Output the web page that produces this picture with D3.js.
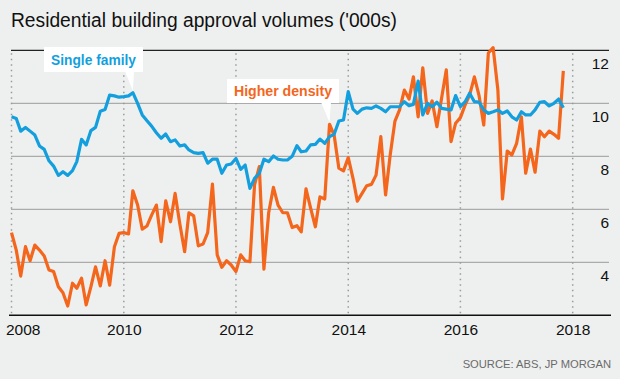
<!DOCTYPE html>
<html>
<head>
<meta charset="utf-8">
<script src="https://cdn.jsdelivr.net/npm/d3@7"></script>
<style>
  html, body { margin: 0; padding: 0; background: #eef0ef; }
  svg { display: block; font-family: "Liberation Sans", Arial, sans-serif; }
</style>
</head>
<body>
<div id="chart"></div>
<script>
// Monthly series, Jan 2008 onwards ('000s)
const startYear = 2008;
const singleFamily = [
  9.49, 9.43, 8.95, 9.09, 8.95, 8.80, 8.39, 8.26, 7.83, 7.63, 7.28, 7.42,
  7.28, 7.46, 7.80, 8.64, 8.43, 8.97, 9.09, 9.70, 9.77, 10.31, 10.28, 10.23,
  10.25, 10.28, 10.40, 10.00, 9.56, 9.34, 9.14, 8.89, 8.68, 8.84, 8.55, 8.62,
  8.39, 8.43, 8.24, 8.14, 8.11, 8.14, 7.74, 7.89, 7.89, 7.36, 7.67, 7.71,
  7.92, 7.51, 7.67, 6.79, 7.17, 7.36, 7.89, 7.80, 8.01, 7.89, 7.86, 7.86,
  8.00, 8.40, 8.17, 8.20, 8.43, 8.45, 8.65, 8.49, 8.74, 8.83, 9.33, 9.37,
  10.44, 9.78, 9.62, 9.78, 9.83, 9.81, 9.90, 9.81, 9.68, 9.87, 9.87, 9.87,
  10.06, 9.91, 9.96, 10.84, 9.56, 10.00, 9.87, 10.04, 9.81, 9.78, 9.75, 10.29,
  9.87, 10.06, 10.38, 10.06, 10.05, 9.75, 9.62, 9.68, 9.75, 9.62, 9.71, 9.49,
  9.37, 9.68, 9.56, 9.56, 9.75, 10.04, 10.06, 9.90, 10.00, 10.16, 9.83
];
const higherDensity = [
  5.12, 4.46, 3.48, 4.59, 4.06, 4.65, 4.46, 4.24, 3.71, 3.65, 3.08, 2.85,
  2.35, 3.21, 3.02, 3.40, 2.39, 3.08, 3.83, 3.11, 4.06, 3.14, 4.59, 5.09,
  5.12, 5.07, 6.70, 6.16, 5.25, 5.37, 5.78, 6.16, 4.78, 6.32, 5.53, 6.60,
  5.44, 4.40, 5.87, 5.75, 4.62, 4.69, 5.12, 6.95, 4.28, 3.81, 4.06, 3.90,
  3.65, 4.28, 4.06, 4.02, 6.92, 7.61, 3.74, 5.87, 6.83, 6.16, 5.87, 5.87,
  5.31, 5.38, 5.15, 6.77, 6.04, 5.34, 6.47, 6.39, 9.21, 8.80, 7.55, 7.45,
  7.95, 7.17, 6.31, 6.60, 6.89, 6.94, 7.29, 8.74, 6.54, 8.05, 9.33, 9.75,
  10.50, 10.16, 11.00, 9.49, 11.34, 9.62, 10.09, 9.12, 10.21, 11.26, 8.55, 9.25,
  9.46, 9.94, 10.31, 11.00, 10.30, 9.18, 11.90, 12.10, 10.50, 6.39, 8.20, 8.05,
  8.49, 9.49, 7.36, 8.27, 7.40, 8.95, 8.74, 8.95, 8.83, 8.68, 11.22
];
const yearTicks = [2008, 2010, 2012, 2014, 2016, 2018];
const valueTicks = [4, 6, 8, 10, 12];

const width = 620, height = 379;
const blue = "#139fde", orange = "#f4661c";

const svg = d3.select("#chart").append("svg")
  .attr("width", width)
  .attr("height", height);

const x = d3.scaleTime()
  .domain([new Date(2008, 0, 1), new Date(2018, 0, 1)])
  .range([11.5, 572.7]);
const y = d3.scaleLinear()
  .domain([2, 12])
  .range([315.3, 50.3]);

const toPoints = arr => arr.map((v, i) => ({ date: new Date(startYear, i, 1), value: v }));

// Title
svg.append("text")
  .attr("x", 11).attr("y", 27)
  .attr("font-size", 20)
  .attr("fill", "#111")
  .attr("textLength", 386)
  .attr("lengthAdjust", "spacingAndGlyphs")
  .text("Residential building approval volumes ('000s)");

// Horizontal gridlines
svg.append("g")
  .selectAll("line")
  .data(valueTicks)
  .join("line")
  .attr("x1", 11).attr("x2", 609)
  .attr("y1", d => y(d)).attr("y2", d => y(d))
  .attr("stroke", d => d === 12 ? "#222" : "#9a9a9a")
  .attr("stroke-width", d => d === 12 ? 1.2 : 1);

// Vertical dotted year lines
svg.append("g")
  .selectAll("line")
  .data(yearTicks)
  .join("line")
  .attr("x1", d => x(new Date(d, 0, 1))).attr("x2", d => x(new Date(d, 0, 1)))
  .attr("y1", y(12) + 3).attr("y2", y(2))
  .attr("stroke", "#9a9a9a")
  .attr("stroke-width", 1.5)
  .attr("stroke-dasharray", "1.5,4");

// Bottom axis
const xAxis = d3.axisBottom(x)
  .tickValues(yearTicks.map(d => new Date(d, 0, 1)))
  .tickFormat(d3.timeFormat("%Y"))
  .tickSize(0)
  .tickPadding(9);
const gx = svg.append("g")
  .attr("transform", `translate(0,${y(2)})`)
  .call(xAxis);
gx.select(".domain").remove();
gx.selectAll("text")
  .attr("font-size", 15.5)
  .attr("font-family", "Liberation Sans, Arial, sans-serif")
  .attr("fill", "#111")
  .attr("dy", "0.72em");
gx.selectAll(".tick").filter(d => d.getFullYear() === 2008)
  .select("text").attr("text-anchor", "start").attr("x", -6);
svg.append("line")
  .attr("x1", 9).attr("x2", 611)
  .attr("y1", y(2)).attr("y2", y(2))
  .attr("stroke", "#111").attr("stroke-width", 1.5);

// Right value labels, hanging below their gridlines
svg.append("g")
  .selectAll("text")
  .data(valueTicks)
  .join("text")
  .attr("x", 609)
  .attr("y", d => y(d) + 18.5)
  .attr("text-anchor", "end")
  .attr("font-size", 15.5)
  .attr("fill", "#111")
  .text(d => d);

// Lines
const line = d3.line()
  .x(d => x(d.date))
  .y(d => y(d.value));

svg.append("path")
  .datum(toPoints(higherDensity))
  .attr("d", line)
  .attr("fill", "none")
  .attr("stroke", orange)
  .attr("stroke-width", 3.2)
  .attr("stroke-linejoin", "round");

svg.append("path")
  .datum(toPoints(singleFamily))
  .attr("d", line)
  .attr("fill", "none")
  .attr("stroke", blue)
  .attr("stroke-width", 3.2)
  .attr("stroke-linejoin", "round");

// Callouts
function callout(bx, by, bw, bh, tail, label, colour) {
  const g = svg.append("g");
  g.append("path")
    .attr("d", `M${tail[0]},${by + bh - 1} L${tail[1]},${by + bh - 1} L${tail[2]},${tail[3]} Z`)
    .attr("fill", "#fff");
  g.append("rect")
    .attr("x", bx).attr("y", by)
    .attr("width", bw).attr("height", bh)
    .attr("fill", "#fff");
  g.append("text")
    .attr("x", bx + bw / 2).attr("y", by + bh / 2 + 5)
    .attr("text-anchor", "middle")
    .attr("font-size", 14.5)
    .attr("font-weight", "bold")
    .attr("fill", colour)
    .attr("textLength", bw - 14)
    .attr("lengthAdjust", "spacingAndGlyphs")
    .text(label);
}
const sfPeak = 26, hdPeak = 68;
callout(44, 47, 99, 25,
  [125, 134, x(new Date(startYear, sfPeak, 1)), y(singleFamily[sfPeak]) - 2],
  "Single family", blue);
callout(227, 79, 112, 24,
  [321, 331, x(new Date(startYear, hdPeak, 1)), y(higherDensity[hdPeak]) - 2],
  "Higher density", orange);

// Source
svg.append("text")
  .attr("x", 611).attr("y", 368)
  .attr("text-anchor", "end")
  .attr("font-size", 11.2)
  .attr("fill", "#6b6b6b")
  .text("SOURCE: ABS, JP MORGAN");
</script>
</body>
</html>
